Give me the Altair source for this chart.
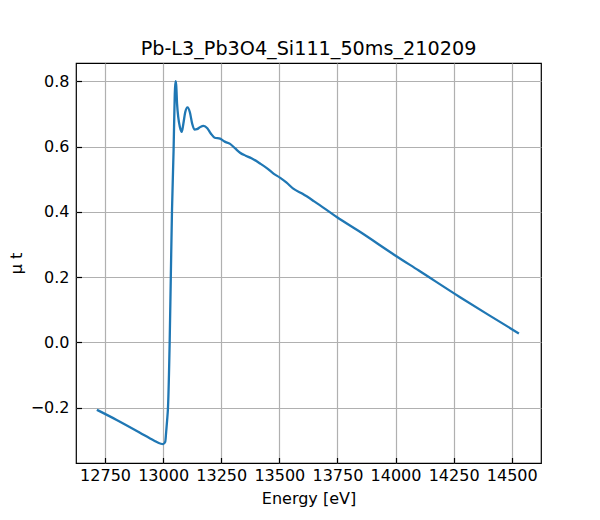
import altair as alt
import pandas as pd

energy = [12715, 12800, 12900, 12960, 12990, 13000, 13009, 13013, 13017, 13021,
          13028, 13033, 13038, 13045, 13050, 13053, 13056, 13060, 13065, 13072,
          13080, 13087, 13095, 13105, 13115, 13125, 13135, 13145, 13160, 13174,
          13190, 13205, 13222, 13245, 13265, 13288, 13310, 13331, 13355, 13380,
          13417, 13446, 13475, 13504, 13530, 13560, 13600, 13650, 13747, 13850,
          13997, 14100, 14276, 14400, 14531]
mu_t = [-0.207, -0.238, -0.277, -0.301, -0.311, -0.312, -0.305, -0.275, -0.240, -0.198,
        -0.003, 0.201, 0.400, 0.590, 0.760, 0.800, 0.790, 0.730, 0.690, 0.660,
        0.645, 0.670, 0.705, 0.720, 0.705, 0.670, 0.652, 0.653, 0.660, 0.663,
        0.656, 0.640, 0.627, 0.624, 0.615, 0.608, 0.594, 0.581, 0.572, 0.564,
        0.548, 0.534, 0.517, 0.504, 0.490, 0.471, 0.455, 0.432, 0.384, 0.337,
        0.267, 0.220, 0.139, 0.084, 0.027]

x_ticks = [12750, 13000, 13250, 13500, 13750, 14000, 14250, 14500]
y_ticks = [-0.2, 0.0, 0.2, 0.4, 0.6, 0.8]
x_domain = [12625, 14626]
y_domain = [-0.370, 0.856]

df = pd.DataFrame({"energy": energy, "mu": mu_t})

FONT = "DejaVu Sans"

chart = alt.Chart(df).mark_line(
    color="#1f77b4", strokeWidth=2.3, interpolate="monotone", clip=True
).encode(
    x=alt.X("energy:Q",
            scale=alt.Scale(domain=x_domain, nice=False, zero=False),
            axis=alt.Axis(values=x_ticks, format="d", title="Energy [eV]",
                          offset=-5.5, tickSize=5.5, domain=False,
                          labelPadding=4.5, titlePadding=7, labelFlush=False,
                          labelOverlap=False)),
    y=alt.Y("mu:Q",
            scale=alt.Scale(domain=y_domain, nice=False, zero=False),
            axis=alt.Axis(values=y_ticks, format=".1f", title="μ t",
                          offset=-5.5, tickSize=5.5, domain=False,
                          labelPadding=7, titlePadding=6, labelFlush=False,
                          labelOverlap=False)),
).properties(
    width=465,
    height=400,
    background="white",
    title=alt.TitleParams("Pb-L3_Pb3O4_Si111_50ms_210209", fontSize=19.2,
                          font=FONT, fontWeight="normal", color="black",
                          anchor="middle", offset=3.5),
    autosize=alt.AutoSizeParams(type="none"),
    padding={"left": 68, "top": 55, "right": 40, "bottom": 45},
).configure_axis(
    labelFont=FONT, titleFont=FONT, labelFontSize=16, titleFontSize=16,
    labelColor="black", titleColor="black", titleFontWeight="normal",
    tickColor="black", tickWidth=1.2,
    grid=True, gridColor="#b0b0b0", gridWidth=1.2, gridOpacity=1,
).configure_view(
    stroke="black", strokeWidth=1.2,
)

chart.save("out.html", embed_options={"renderer": "svg", "actions": False})
